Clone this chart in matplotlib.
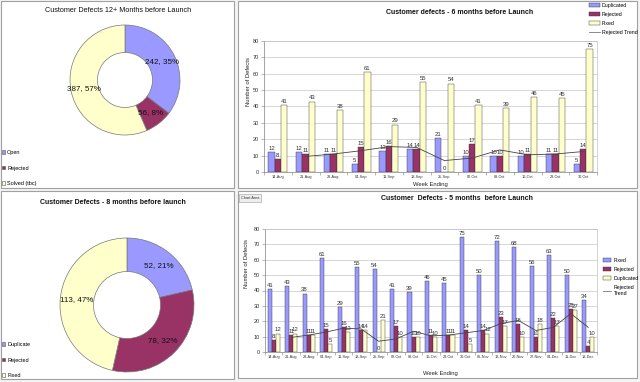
import matplotlib
matplotlib.use('Agg')
import matplotlib.pyplot as plt
from matplotlib.patches import Rectangle, Patch
from matplotlib.lines import Line2D
import numpy as np

plt.rcParams['font.family'] = ['Liberation Sans', 'DejaVu Sans']

# ---------------- data ----------------
pie12_labels = ['Open', 'Rejected', 'Solved (tbc)']
pie12_values = [242, 56, 387]
pie12_pcts = [35, 8, 57]

pie8_labels = ['Duplicate', 'Rejected', 'Fixed']
pie8_values = [52, 78, 113]
pie8_pcts = [21, 32, 47]

weeks6 = ['14-Aug', '21-Aug', '28-Aug', '04-Sep', '11-Sep', '18-Sep',
          '25-Sep', '02-Oct', '09-Oct', '16-Oct', '23-Oct', '30-Oct']
dup6 = [12, 12, 11, 5, 13, 14, 21, 10, 10, 10, 11, 5]
rej6 = [8, 11, 11, 15, 16, 14, 0, 17, 10, 11, 11, 14]
fix6 = [41, 43, 38, 61, 29, 55, 54, 41, 39, 46, 45, 75]
trend6 = [np.nan, 9.5, 11, 13, 15.5, 15, 7, 8.5, 13.5, 10.5, 11, 12.5]

weeks5 = ['14-Aug', '21-Aug', '28-Aug', '04-Sep', '11-Sep', '18-Sep',
          '25-Sep', '02-Oct', '09-Oct', '16-Oct', '23-Oct', '30-Oct',
          '06-Nov', '13-Nov', '20-Nov', '27-Nov', '04-Dec', '11-Dec', '18-Dec']
fix5 = [41, 43, 38, 61, 29, 55, 54, 41, 39, 46, 45, 75, 50, 72, 68, 56, 63, 50, 34]
rej5 = [8, 11, 11, 15, 16, 14, 0, 17, 10, 11, 11, 14, 14, 23, 18, 10, 22, 28, 4]
dup5 = [12, 12, 11, 5, 13, 14, 21, 10, 10, 10, 11, 5, 12, 17, 10, 18, 17, 27, 10]
trend5 = [np.nan, 9.5, 11, 13, 15.5, 15, 7, 8.5, 13.5, 10.5, 11, 12.5,
          14, 18.5, 20.5, 14, 16, 25, 16]

BLUE = '#9999ff'
MAROON = '#993366'
CREAM = '#ffffcc'

W, H = 640, 382
fig = plt.figure(figsize=(W / 100, H / 100), dpi=100)
fig.patch.set_facecolor('#f4f4f4')


def rect(x0, y0, x1, y1):
    return [x0 / W, 1 - y1 / H, (x1 - x0) / W, (y1 - y0) / H]


def fx(x):
    return x / W


def fy(y):
    return 1 - y / H


# panel frames
for (x0, y0, x1, y1) in [(1, 1, 234, 188), (238, 1, 637, 188),
                         (1, 191, 234, 379), (238, 191, 637, 378)]:
    fig.patches.append(Rectangle((fx(x0), fy(y1)), (x1 - x0) / W, (y1 - y0) / H,
                                 transform=fig.transFigure, facecolor='white',
                                 edgecolor='#a0a0a0', lw=0.8, zorder=-10))


def donut(cx, cy, r, values, pcts, colors, title, title_xy, title_kw,
          legend_labels, legend_xy):
    ax = fig.add_axes(rect(cx - r, cy - r, cx + r, cy + r))
    ax.patch.set_alpha(0)
    lbls = [f'{v}, {p}%' for v, p in zip(values, pcts)]
    wedges, texts = ax.pie(values, colors=colors, startangle=90, counterclock=False,
                           labels=lbls, labeldistance=0.76,
                           wedgeprops=dict(width=0.5, edgecolor='#777777', linewidth=0.5),
                           textprops=dict(fontsize=5.8, color='#111111'))
    for t in texts:
        t.set_ha('center')
        t.set_va('center')
    ax.set_xlim(-1, 1)
    ax.set_ylim(-1, 1)
    ax.set_aspect('equal')
    fig.text(fx(title_xy[0]), fy(title_xy[1]), title, ha='center', va='center',
             **title_kw)
    handles = [Patch(facecolor=c, edgecolor='#555555', lw=0.4) for c in colors]
    fig.legend(handles, legend_labels, loc='upper left',
               bbox_to_anchor=(fx(legend_xy[0]), fy(legend_xy[1])),
               frameon=False, fontsize=4, handlelength=0.6, handleheight=0.6,
               handletextpad=0.3, labelspacing=1.9, borderaxespad=0, borderpad=0)


donut(125, 80, 55, pie12_values, pie12_pcts, [BLUE, MAROON, CREAM],
      'Customer Defects 12+ Months before Launch', (118, 10),
      dict(fontsize=5.2, color='#111111'), pie12_labels, (2, 150))

donut(127, 305, 67, pie8_values, pie8_pcts, [BLUE, MAROON, CREAM],
      'Customer Defects - 8 months before launch', (113, 203),
      dict(fontsize=5.0, fontweight='bold', color='#111111'), pie8_labels, (2, 342))


def bars(box, cats, series, trend, title, title_xy, ylabel_xy, xlabel_xy,
         legend_handles, legend_labels, legend_xy, legend_kw):
    ax = fig.add_axes(rect(*box))
    x = np.arange(len(cats))
    bw = 0.23
    offs = [-bw, 0, bw]
    for (vals, col), o in zip(series, offs):
        b = ax.bar(x + o, vals, width=bw, color=col, edgecolor='#333333', lw=0.3,
                   zorder=3)
        ax.bar_label(b, padding=0.8, fontsize=4.3, color='#333333')
    ax.plot(x, trend, color='#444444', lw=0.6, zorder=4)
    ax.set_ylim(0, 80)
    ax.set_yticks(np.arange(0, 81, 10))
    ax.set_xlim(-0.5, len(cats) - 0.5)
    ax.set_xticks(x)
    ax.set_xticklabels(cats, fontsize=2.8, color='#333333')
    ax.set_xticks(np.arange(-0.5, len(cats), 1), minor=True)
    ax.tick_params(axis='x', which='major', length=0, pad=2)
    ax.tick_params(axis='x', which='minor', length=2.5, width=0.4, color='#808080')
    ax.tick_params(axis='y', labelsize=4, length=2, width=0.4, color='#808080',
                   labelcolor='#333333', pad=1.5)
    ax.grid(axis='y', color='#c8c8c8', lw=0.5, zorder=0)
    ax.set_axisbelow(True)
    for s in ax.spines.values():
        s.set_color('#c0c0c0')
        s.set_linewidth(0.5)
    ax.spines['left'].set_color('#808080')
    ax.spines['bottom'].set_color('#808080')
    fig.text(fx(title_xy[0]), fy(title_xy[1]), title, ha='center', va='center',
             fontsize=5.0, fontweight='bold', color='#111111')
    fig.text(fx(ylabel_xy[0]), fy(ylabel_xy[1]), 'Number of Defects', rotation=90,
             ha='center', va='center', fontsize=4.2, color='#222222')
    fig.text(fx(xlabel_xy[0]), fy(xlabel_xy[1]), 'Week Ending', ha='center',
             va='center', fontsize=4.2, color='#222222')
    fig.legend(legend_handles, legend_labels, loc='upper left',
               bbox_to_anchor=(fx(legend_xy[0]), fy(legend_xy[1])),
               frameon=False, fontsize=3.8, handletextpad=0.4,
               borderaxespad=0, borderpad=0, **legend_kw)
    return ax


def handles(cols):
    hs = [Patch(facecolor=c, edgecolor='#333333', lw=0.3) for c in cols]
    hs.append(Line2D([], [], color='#777777', lw=0.6))
    return hs


bars((264, 41, 597, 172), weeks6,
     [(dup6, BLUE), (rej6, MAROON), (fix6, CREAM)], trend6,
     'Customer defects - 6 months before Launch', (460, 13), (248, 82), (430, 184),
     handles([BLUE, MAROON, CREAM]),
     ['Duplicated', 'Rejected', 'Fixed', 'Rejected Trend'], (589, 3),
     dict(handlelength=2.0, handleheight=0.6, labelspacing=0.75))

bars((265, 229, 597, 352), weeks5,
     [(fix5, BLUE), (rej5, MAROON), (dup5, CREAM)], trend5,
     'Customer  Defects - 5 months  before Launch', (457, 199), (247, 264), (440, 374),
     handles([BLUE, MAROON, CREAM]),
     ['Fixed', 'Rejected', 'Duplicated', 'Rejected\nTrend'], (603, 258),
     dict(handlelength=1.6, handleheight=0.6, labelspacing=0.75))

# "Chart Area" tooltip box
fig.text(fx(241), fy(198), 'Chart Area', ha='left', va='center', fontsize=2.8,
         color='#333333',
         bbox=dict(boxstyle='square,pad=0.5', facecolor='#eeeeee',
                   edgecolor='#999999', lw=0.4))

fig.savefig('out.png', dpi=100, facecolor=fig.get_facecolor())
